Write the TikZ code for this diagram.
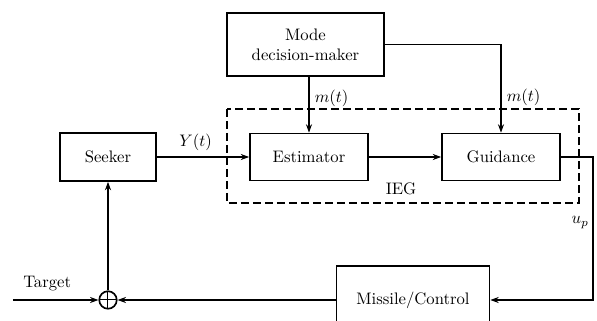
\documentclass[tikz,border=0pt]{standalone}
\usetikzlibrary{arrows.meta}
\begin{document}
\begin{tikzpicture}[x=0.6pt,y=-0.6pt,
  line width=1pt,
  >={Stealth[length=5pt,width=3.6pt]},
  blockbox/.style={draw,rectangle,inner sep=0pt,align=center},
  sumnode/.style={draw,circle,minimum size=10.5pt,inner sep=0pt,
    path picture={\draw[line width=0.6pt]
      (path picture bounding box.north) -- (path picture bounding box.south)
      (path picture bounding box.west) -- (path picture bounding box.east);}},
  groupbox/.style={draw,dash pattern=on 4.8pt off 2.4pt}]
  \useasboundingbox (0,0) rectangle (597,321);
  \clip (0,0) rectangle (597,321);

  % blocks
  \node[blockbox,minimum width=94.2pt,minimum height=37.8pt] (mode) at (305.5,44.5)
    {Mode\\decision-maker};
  \node[blockbox,minimum width=57.6pt,minimum height=28.8pt] (seek) at (108,157) {Seeker};
  \node[blockbox,minimum width=70.8pt,minimum height=28.2pt] (est) at (309,157) {Estimator};
  \node[blockbox,minimum width=70.8pt,minimum height=28.2pt] (guid) at (501,157) {Guidance};
  \node[blockbox,minimum width=91.8pt,minimum height=40.8pt] (miss) at (413,300) {Missile/Control};
  \node[sumnode] (sum) at (108,300) {};

  % estimator-guidance group
  \draw[groupbox] (227,109) rectangle (579,203);
  \node (ieg) at (401,189) {IEG};

  % helper points
  \coordinate (tin) at (13,300);
  \coordinate (c1) at (593,157);
  \coordinate (c2) at (593,300);

  % connectors
  \draw[->] (mode.south -| est.north) -- node[pos=0.38,right,inner sep=3pt] {$m(t)$} (est.north);
  \draw[->] (mode.east) -| node[pos=0.8,right,inner sep=3pt] {$m(t)$} (guid.north);
  \draw[->] (seek.east) -- node[pos=0.42,above,inner sep=3pt] {$Y(t)$} (est.west);
  \draw[->] (est.east) -- (guid.west);
  \draw[->] (guid.east) -- (c1) -- node[pos=0.46,left,inner sep=2pt] {$u_p$} (c2) -- (miss.east);
  \draw[->] (miss.west) -- (sum.east);
  \draw[->] (tin) -- node[pos=0.4,above,inner sep=5pt] {Target} (sum.west);
  \draw[->] (sum.north) -- (seek.south);
\end{tikzpicture}
\end{document}
